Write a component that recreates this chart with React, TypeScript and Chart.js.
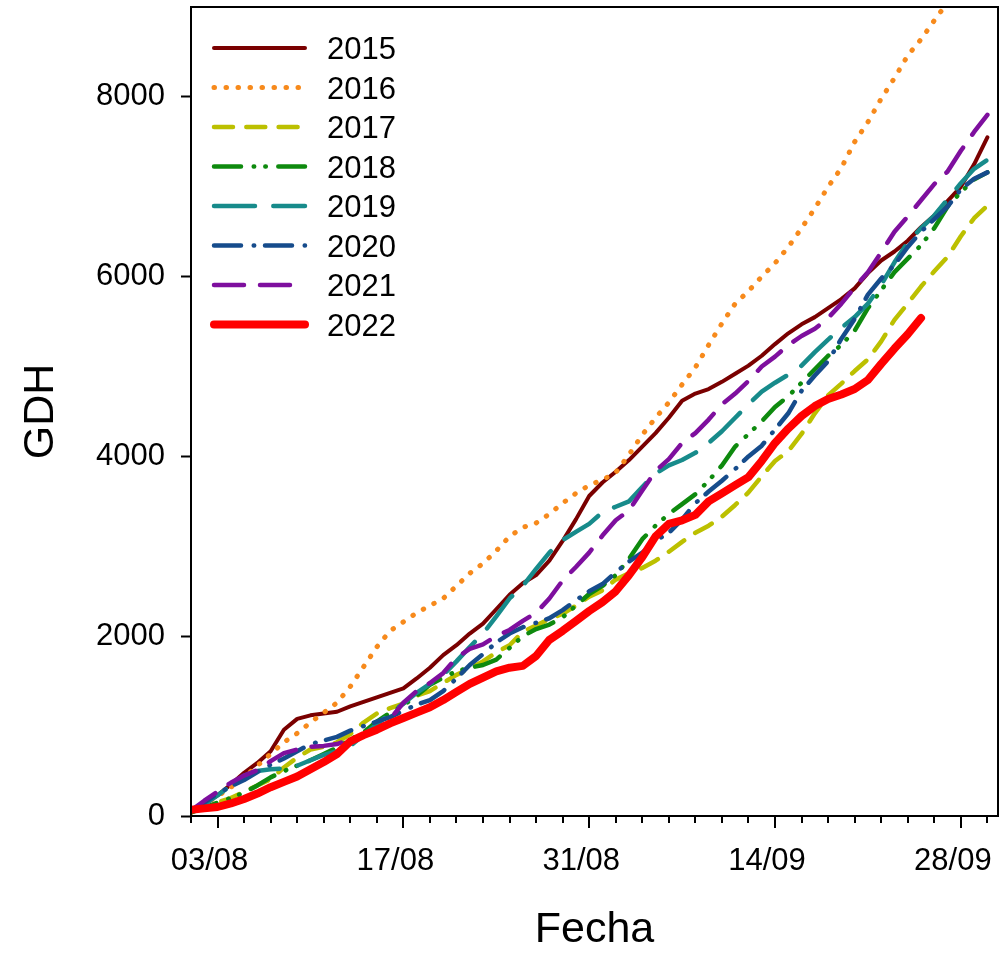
import React, { useEffect, useRef } from 'react';
import { Chart, registerables } from 'chart.js';

Chart.register(...registerables);

// Days since 01/08 (x values)
const days = [
  0, 1, 2, 3, 4, 5, 6, 7, 8, 9, 10, 11, 12, 13, 14, 15, 16, 17, 18, 19, 20,
  21, 22, 23, 24, 25, 26, 27, 28, 29, 30, 31, 32, 33, 34, 35, 36, 37, 38, 39, 40,
  41, 42, 43, 44, 45, 46, 47, 48, 49, 50, 51, 52, 53, 54, 55, 56, 57, 58, 59, 60,
];

const seriesNames = ['2015', '2016', '2017', '2018', '2019', '2020', '2021', '2022'];

const y2015 = [50, 130, 230, 350, 480, 590, 720, 960, 1080, 1120, 1140, 1160, 1220, 1270, 1320, 1370, 1420, 1530, 1650, 1790, 1900, 2030, 2140, 2300, 2460, 2590, 2680, 2840, 3060, 3300, 3560, 3710, 3830, 3960, 4110, 4260, 4430, 4620, 4700, 4750, 4830, 4920, 5010, 5120, 5250, 5370, 5470, 5550, 5650, 5750, 5870, 6040, 6180, 6280, 6400, 6550, 6680, 6840, 7000, 7250, 7550];
const y2016 = [40, 130, 220, 320, 430, 560, 690, 820, 920, 1040, 1150, 1260, 1440, 1660, 1880, 2060, 2160, 2260, 2340, 2420, 2560, 2700, 2810, 2950, 3110, 3210, 3260, 3360, 3480, 3590, 3680, 3740, 3820, 4020, 4240, 4430, 4600, 4800, 4990, 5240, 5480, 5700, 5840, 6000, 6150, 6330, 6540, 6760, 7000, 7210, 7500, 7720, 7980, 8210, 8460, 8640, 8850, 9050, 9330, 9600, 9870];
const y2017 = [40, 100, 150, 200, 270, 340, 410, 540, 650, 740, 770, 820, 910, 1040, 1140, 1200, 1250, 1340, 1390, 1480, 1570, 1640, 1720, 1820, 1900, 2050, 2120, 2190, 2250, 2340, 2440, 2510, 2630, 2700, 2760, 2840, 2940, 3050, 3150, 3230, 3330, 3460, 3600, 3780, 3950, 4060, 4250, 4480, 4680, 4810, 4950, 5080, 5280, 5520, 5700, 5890, 6060, 6220, 6450, 6650, 6790];
const y2018 = [40, 90, 150, 200, 260, 340, 430, 500, 560, 620, 690, 760, 850, 930, 1050, 1150, 1230, 1340, 1460, 1540, 1610, 1650, 1680, 1740, 1870, 2000, 2080, 2130, 2210, 2340, 2470, 2560, 2680, 2860, 3080, 3230, 3360, 3470, 3580, 3730, 3900, 4110, 4250, 4390, 4550, 4670, 4820, 4970, 5120, 5240, 5400, 5650, 5850, 6050, 6200, 6350, 6540, 6780, 6940, 7080, 7160];
const y2019 = [60, 130, 230, 340, 450, 500, 520, 530, 560, 620, 680, 720, 780, 900, 1020, 1140, 1250, 1370, 1470, 1570, 1720, 1880, 2030, 2220, 2420, 2560, 2750, 2930, 3070, 3160, 3250, 3380, 3440, 3500, 3660, 3810, 3900, 3960, 4040, 4150, 4280, 4430, 4580, 4720, 4820, 4910, 5010, 5160, 5300, 5430, 5550, 5700, 5910, 6160, 6380, 6540, 6680, 6860, 7040, 7200, 7300];
const y2020 = [60, 150, 250, 330, 400, 490, 570, 640, 720, 800, 840, 880, 950, 1000, 1050, 1100, 1170, 1240, 1290, 1390, 1530, 1680, 1800, 1930, 2030, 2100, 2150, 2200, 2290, 2400, 2500, 2580, 2710, 2830, 2930, 3060, 3150, 3300, 3480, 3610, 3730, 3860, 4000, 4120, 4300, 4480, 4730, 4900, 5060, 5310, 5530, 5800, 5980, 6130, 6330, 6500, 6640, 6780, 6970, 7090, 7160];
const y2021 = [60, 170, 270, 370, 450, 510, 610, 700, 740, 770, 780, 800, 850, 900, 960, 1080, 1260, 1390, 1480, 1590, 1760, 1860, 1910, 2000, 2070, 2170, 2260, 2420, 2620, 2770, 2930, 3120, 3290, 3400, 3620, 3840, 3970, 4150, 4260, 4410, 4580, 4700, 4840, 5000, 5110, 5240, 5340, 5420, 5540, 5700, 5880, 6050, 6270, 6500, 6670, 6850, 7030, 7170, 7400, 7610, 7800];
const y2022 = [70, 85, 100, 140, 190, 250, 320, 380, 440, 520, 600, 690, 830, 900, 960, 1030, 1090, 1150, 1210, 1290, 1380, 1470, 1540, 1610, 1650, 1670, 1780, 1960, 2060, 2170, 2280, 2380, 2500, 2680, 2880, 3110, 3250, 3290, 3350, 3500, 3590, 3680, 3770, 3950, 4150, 4310, 4450, 4560, 4640, 4690, 4750, 4850, 5030, 5200, 5360, 5540];

const seriesValues = [y2015, y2016, y2017, y2018, y2019, y2020, y2021, y2022];

const xTickDays = [2, 16, 30, 44, 58];
const xTickLabels = ['03/08', '17/08', '31/08', '14/09', '28/09'];
const yTickValues = [0, 2000, 4000, 6000, 8000];

// Styles
const seriesColors = ['#7a0000', '#f78a1c', '#bcc000', '#0e8a0e', '#178b8b', '#164c8c', '#7e0f9e', '#ff0000'];
const seriesWidths = [4, 5, 4.5, 4.5, 4.5, 4.5, 4.5, 8];
const seriesDashes: number[][] = [
  [],
  [0.5, 11.5],
  [19, 13.3],
  [27, 12.7, 0.5, 11.1, 0.5, 12.5],
  [41, 18.3],
  [27, 12.7, 0.5, 10.8],
  [30, 16],
  [],
];

const FONT = '"Liberation Sans", Arial, Helvetica, sans-serif';

const framePlugin = {
  id: 'frameAndTicks',
  afterDraw(chart: any) {
    const { ctx, chartArea } = chart;
    const xs = chart.scales.x;
    ctx.save();
    ctx.strokeStyle = '#000';
    ctx.lineWidth = 2;
    ctx.setLineDash([]);
    ctx.lineCap = 'butt';
    ctx.strokeRect(chartArea.left, chartArea.top, chartArea.right - chartArea.left, chartArea.bottom - chartArea.top);
    // x ticks: major (labelled) longer than minor
    ctx.beginPath();
    for (const t of xs.ticks) {
      const v = Math.round(t.value);
      const px = Math.round(xs.getPixelForValue(t.value));
      const major = xTickDays.includes(v);
      ctx.moveTo(px, chartArea.bottom);
      ctx.lineTo(px, chartArea.bottom + (major ? 12 : 7));
    }
    ctx.stroke();
    ctx.restore();
  },
};

const legendPlugin = {
  id: 'customLegend',
  afterDraw(chart: any) {
    const { ctx } = chart;
    const datasets = chart.data.datasets;
    ctx.save();
    datasets.forEach((ds: any, i: number) => {
      const y = 48 + i * 39.5;
      ctx.beginPath();
      ctx.strokeStyle = ds.borderColor;
      ctx.lineWidth = ds.borderWidth;
      ctx.lineCap = 'round';
      ctx.setLineDash(ds.borderDash || []);
      ctx.moveTo(214, y);
      ctx.lineTo(305, y);
      ctx.stroke();
      ctx.setLineDash([]);
      ctx.fillStyle = '#000';
      ctx.font = `31px ${FONT}`;
      ctx.textAlign = 'left';
      ctx.textBaseline = 'alphabetic';
      ctx.fillText(ds.label, 327, y + 11);
    });
    ctx.restore();
  },
};

export default function App() {
  const canvasRef = useRef<HTMLCanvasElement | null>(null);

  useEffect(() => {
    if (!canvasRef.current) return;
    Chart.defaults.font.family = FONT;
    const datasets = seriesNames.map((name, i) => ({
      label: name,
      data: seriesValues[i].map((v, j) => ({ x: days[j], y: v })),
      borderColor: seriesColors[i],
      backgroundColor: seriesColors[i],
      borderWidth: seriesWidths[i],
      borderDash: seriesDashes[i],
      borderCapStyle: 'round' as const,
      borderJoinStyle: 'round' as const,
      pointRadius: 0,
      tension: 0,
      fill: false,
      order: seriesNames.length - i,
    }));

    const chart = new Chart(canvasRef.current, {
      type: 'line',
      data: { datasets },
      options: {
        responsive: false,
        animation: false,
        devicePixelRatio: 1,
        layout: { padding: { top: 7, right: 5, left: 0, bottom: 0 } },
        plugins: {
          legend: { display: false },
          tooltip: { enabled: false },
        },
        scales: {
          x: {
            type: 'linear',
            min: 0,
            max: 60.8,
            afterFit: (s: any) => {
              s.height = 149;
              s.paddingLeft = 0;
              s.paddingRight = 0;
            },
            grid: { display: false, drawTicks: false },
            border: { display: false },
            ticks: {
              stepSize: 2,
              autoSkip: false,
              maxRotation: 0,
              minRotation: 0,
              includeBounds: false,
              padding: 27,
              labelOffset: -8,
              color: '#000',
              font: { size: 31, family: FONT },
              callback: (value: any) => {
                const k = xTickDays.indexOf(Math.round(Number(value)));
                return k >= 0 ? xTickLabels[k] : '';
              },
            },
            title: {
              display: true,
              text: 'Fecha',
              color: '#000',
              font: { size: 43, family: FONT },
              padding: { top: 0, bottom: 9 },
            },
          },
          y: {
            type: 'linear',
            min: 0,
            max: 9000,
            afterBuildTicks: (s: any) => {
              s.ticks = yTickValues.map((v) => ({ value: v }));
            },
            afterFit: (s: any) => {
              s.width = 191;
              s.paddingTop = 0;
              s.paddingBottom = 0;
            },
            grid: {
              display: true,
              drawOnChartArea: false,
              drawTicks: true,
              tickLength: 10,
              tickWidth: 2,
              tickColor: '#000',
            },
            border: { display: false },
            ticks: {
              padding: 16,
              color: '#000',
              font: { size: 31, family: FONT },
              callback: (value: any) => String(value),
            },
            title: {
              display: true,
              text: 'GDH',
              color: '#000',
              font: { size: 43, family: FONT },
              padding: { top: 15, bottom: 0 },
            },
          },
        },
      },
      plugins: [framePlugin, legendPlugin],
    });
    return () => chart.destroy();
  }, []);

  return (
    <div style={{ position: 'absolute', left: 0, top: 0, width: 1003, height: 965, background: '#fff' }}>
      <canvas ref={canvasRef} width={1003} height={965} style={{ display: 'block' }} />
    </div>
  );
}
